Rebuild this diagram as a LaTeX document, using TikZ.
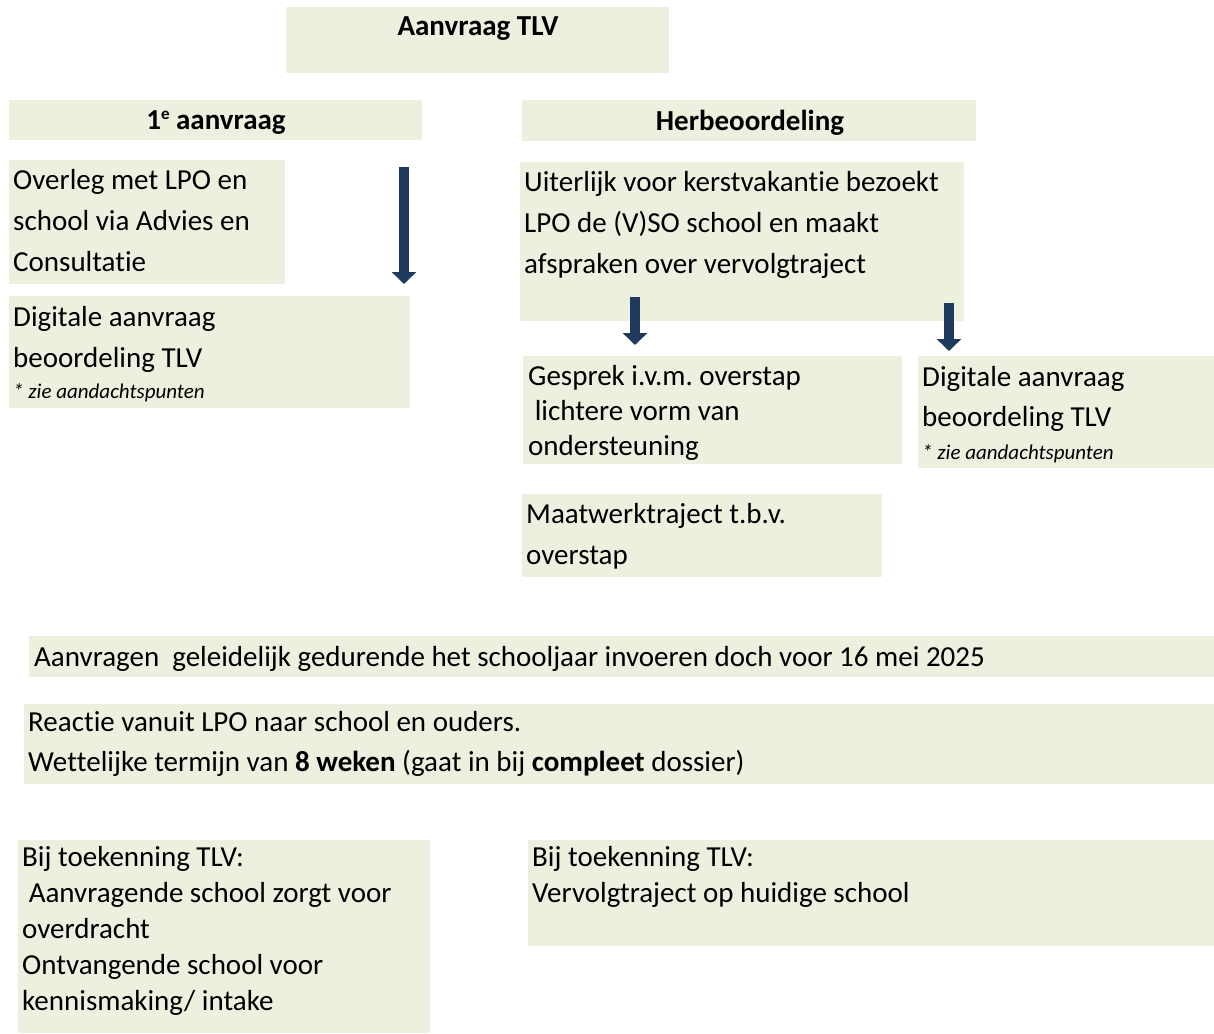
\documentclass[tikz,border=0pt]{standalone}
\usepackage{fontspec}
\setmainfont[Ligatures={NoCommon,NoContextual}]{Carlito}
\usepackage{xcolor}
\usetikzlibrary{arrows.meta}
\definecolor{boxgreen}{HTML}{EBF1DE}
\definecolor{arrowblue}{HTML}{1F3A5C}
\newcommand{\tstrut}{\rule{0pt}{24pt}}
\newcommand{\nolig}{\kern0pt{}}
\frenchspacing

\begin{document}
\begin{tikzpicture}[x=1pt, y=-1pt,
		box/.style={fill=boxgreen, inner sep=0, anchor=north west},
		txt/.style={inner sep=0, anchor=north west, align=left, font=\fontsize{29}{41}\selectfont},
		head/.style={inner sep=0, anchor=base, font=\fontsize{29}{36}\selectfont\bfseries},
		note/.style={inner sep=0, anchor=base west, font=\fontsize{21}{24}\selectfont\itshape},
		down/.style={arrowblue, line width=10pt, -{Triangle[width=24pt, length=12pt]}}]
	\useasboundingbox (0,0) rectangle (1214,1033);
	% boxes
	\node[box, minimum width=383pt, minimum height=66pt] (tlv) at (286,7) {};
	\node[box, minimum width=413pt, minimum height=40pt] (eerste) at (9,100) {};
	\node[box, minimum width=454pt, minimum height=41pt] (herb) at (522,100) {};
	\node[box, minimum width=276pt, minimum height=124pt] (overleg) at (9,160) {};
	\node[box, minimum width=401pt, minimum height=112pt] (digiL) at (9,296) {};
	\node[box, minimum width=444pt, minimum height=159pt] (uiterlijk) at (520,162) {};
	\node[box, minimum width=379pt, minimum height=108pt] (gesprek) at (523,356) {};
	\node[box, minimum width=296pt, minimum height=112pt] (digiR) at (918,356) {};
	\node[box, minimum width=360pt, minimum height=83pt] (maatwerk) at (522,494) {};
	\node[box, minimum width=1185pt, minimum height=41pt] (invoer) at (29,636) {};
	\node[box, minimum width=1190pt, minimum height=80pt] (reactie) at (24,704) {};
	\node[box, minimum width=412pt, minimum height=193pt] (bijL) at (18,840) {};
	\node[box, minimum width=686pt, minimum height=106pt] (bijR) at (528,840) {};
	%
	\node[head] (tlv-t) at (478,36) {Aanvraag TLV};
	\node[head] (eerste-t) at (216,129) {1\raisebox{10pt}{\fontsize{17}{17}\selectfont e} aanvraag};
	\node[head] (herb-t) at (750,130) {Herbeoordeling};
	%
	\node[txt] (overleg-t) at (13,165) {\tstrut Overleg met LPO en\\school via Advies en\\Consultat\nolig ie};
	\node[txt] (digiL-t) at (13,302) {\tstrut Digitale aanvraag\\beoordeling TLV};
	\node[note] (digiL-n) at (13,398) {* zie aandachtspunten};
	\node[txt] (uiterlijk-t) at (524,167) {\tstrut Uiterlijk voor kerstvakant\nolig ie bezoekt\\LPO de (V)SO school en maakt\\afspraken over vervolgtraject};
	\node[txt, font=\fontsize{29}{35}\selectfont] (gesprek-t) at (528,361) {\tstrut Gesprek i.v.m. overstap\\\ lichtere vorm van\\ondersteuning};
	\node[txt, font=\fontsize{29}{40}\selectfont] (digiR-t) at (922,362) {\tstrut Digitale aanvraag\\beoordeling TLV};
	\node[note] (digiR-n) at (922,459) {* zie aandachtspunten};
	\node[txt] (maatwerk-t) at (526,499) {\tstrut Maatwerktraject t.b.v.\\overstap};
	\node[txt, anchor=base west] (invoer-t) at (34,666) {Aanvragen\ \ geleidelijk gedurende het schooljaar invoeren doch voor 16 mei 2025};
	\node[txt, font=\fontsize{29}{40}\selectfont] (reactie-t) at (28,707) {\tstrut Reactie vanuit LPO naar school en ouders.\\Wet\nolig telijke termijn van \textbf{8 weken} (gaat in bij \textbf{compleet} dossier)};
	\node[txt, font=\fontsize{29}{36}\selectfont] (bijL-t) at (22,842) {\tstrut Bij toekenning TLV:\\\ Aanvragende school zorgt voor\\overdracht\\Ontvangende school voor\\kennismaking/ intake};
	\node[txt, font=\fontsize{29}{36}\selectfont] (bijR-t) at (532,842) {\tstrut Bij toekenning TLV:\\Vervolgtraject op huidige school};
	% arrows
	\coordinate (p1) at (404,167);
	\coordinate (q1) at (404,284);
	\coordinate (p2) at (635,297);
	\coordinate (q2) at (635,345);
	\coordinate (p3) at (949,303);
	\coordinate (q3) at (949,351);
	\draw[down] (p1) -- (q1);
	\draw[down] (p2) -- (q2);
	\draw[down] (p3) -- (q3);
\end{tikzpicture}
\end{document}
